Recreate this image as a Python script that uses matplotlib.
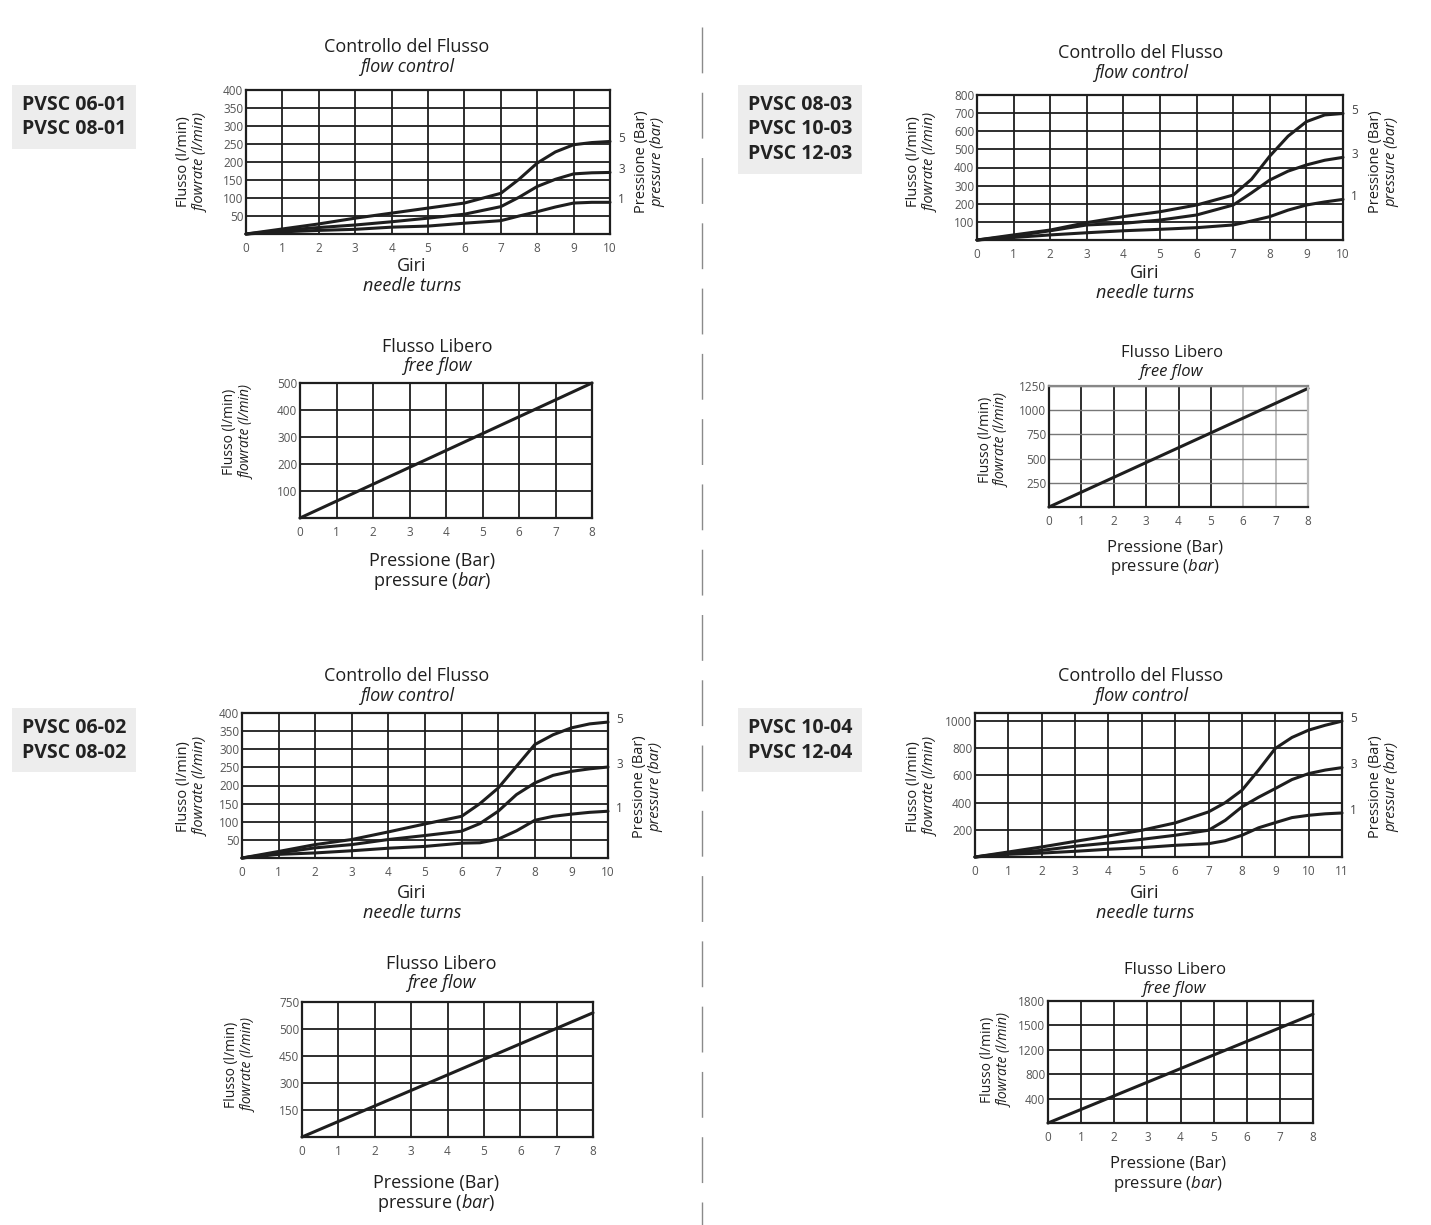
import matplotlib.pyplot as plt
from matplotlib.lines import Line2D

plt.rcParams['font.family'] = ['Open Sans', 'DejaVu Sans']
plt.rcParams['mathtext.fontset'] = 'custom'
plt.rcParams['mathtext.rm'] = 'Open Sans'
plt.rcParams['mathtext.it'] = 'Open Sans:italic'

W, H = 1431, 1225

# --- flow control, PVSC 06-01 / 08-01 ---
turns1 = [0, 1, 2, 3, 4, 5, 6, 7, 7.5, 8, 8.5, 9, 9.5, 10]
flow1_5 = [0, 14, 28, 44, 58, 72, 86, 113, 152, 197, 228, 248, 254, 257]
flow1_3 = [0, 10, 18, 25, 34, 44, 55, 76, 102, 132, 152, 167, 170, 171]
flow1_1 = [0, 6, 10, 13, 19, 22, 30, 37, 50, 62, 75, 86, 88, 88]
yt1 = [50, 100, 150, 200, 250, 300, 350, 400]

# --- flow control, PVSC 08-03 / 10-03 / 12-03 ---
turns2 = [0, 1, 2, 3, 4, 5, 6, 7, 7.5, 8, 8.5, 9, 9.5, 10]
flow2_5 = [0, 28, 55, 96, 129, 156, 193, 248, 335, 463, 573, 653, 690, 698]
flow2_3 = [0, 22, 51, 83, 92, 110, 138, 193, 260, 331, 380, 414, 440, 456]
flow2_1 = [0, 14, 28, 40, 51, 59, 68, 83, 105, 129, 165, 193, 210, 224]
yt2 = [100, 200, 300, 400, 500, 600, 700, 800]

# --- flow control, PVSC 06-02 / 08-02 ---
turns5 = [0, 1, 2, 3, 4, 5, 6, 6.5, 7, 7.5, 8, 8.5, 9, 9.5, 10]
flow5_5 = [0, 18, 37, 51, 72, 94, 115, 150, 193, 253, 313, 340, 359, 370, 375]
flow5_3 = [0, 14, 28, 37, 51, 62, 74, 95, 129, 175, 207, 228, 239, 246, 251]
flow5_1 = [0, 10, 14, 20, 27, 32, 41, 42, 52, 75, 104, 115, 121, 126, 129]
yt5 = [50, 100, 150, 200, 250, 300, 350, 400]

# --- flow control, PVSC 10-04 / 12-04 ---
turns6 = [0, 1, 2, 3, 4, 5, 6, 7, 7.5, 8, 8.5, 9, 9.5, 10, 10.5, 11]
flow6_5 = [0, 37, 74, 115, 155, 197, 251, 332, 400, 491, 640, 799, 880, 934, 970, 1000]
flow6_3 = [0, 30, 49, 79, 103, 130, 160, 197, 270, 369, 440, 504, 570, 614, 640, 658]
flow6_1 = [0, 20, 29, 42, 57, 69, 86, 98, 120, 160, 215, 253, 290, 307, 318, 324]
yt6 = [200, 400, 600, 800, 1000]

curve_labels = ['5', '3', '1']

# --- free flow ---
press = [0, 8]
free3 = [0, 500]
yt3 = [100, 200, 300, 400, 500]
free4 = [0, 1225]
yt4 = [250, 500, 750, 1000, 1250]
free7 = [0, 690]
yt7 = [150, 300, 450, 600, 750]
yl7 = ['150', '300', '450', '500', '750']
free8 = [0, 1605]
yt8 = [360, 720, 1080, 1440, 1800]
yl8 = ['400', '800', '1200', '1500', '1800']

fig = plt.figure(figsize=(W / 100, H / 100), dpi=100)
ink = '#1e1e1e'


def fx(x):
    return x / W


def fy(y):
    return 1 - y / H


def px_axes(x0, x1, ytop, ybot):
    return fig.add_axes([fx(x0), fy(ybot), (x1 - x0) / W, (ybot - ytop) / H])


def setup(ax, xmax, ymax, yticks, ylabels):
    ax.set_xlim(0, xmax)
    ax.set_ylim(0, ymax)
    ax.set_xticks(range(0, xmax + 1))
    ax.set_yticks(yticks)
    ax.set_yticklabels(ylabels)
    ax.grid(True, color=ink, lw=1.3)
    ax.set_axisbelow(True)
    ax.tick_params(length=0, labelsize=8.5, labelcolor='#555555', pad=2)
    ax.tick_params(axis='x', pad=6)
    for s in ax.spines.values():
        s.set_linewidth(1.6)
        s.set_color(ink)


def two_lines(x, y, top, bottom, size, gap=20, rot=0, bottom_style='italic'):
    if rot == 0:
        fig.text(fx(x), fy(y), top, ha='center', va='center', fontsize=size, color=ink)
        fig.text(fx(x), fy(y + gap), bottom, ha='center', va='center', fontsize=size,
                 color=ink, style=bottom_style)
    else:
        fig.text(fx(x), fy(y), top, ha='center', va='center', fontsize=size, color=ink,
                 rotation=90)
        fig.text(fx(x + gap), fy(y), bottom, ha='center', va='center', fontsize=size,
                 color=ink, rotation=90, style=bottom_style)


def flow_chart(rect, turns, curves, xmax, ymax, yticks, title_xy, xlabel_xy, ylab_x, rlab_x, ymid):
    ax = px_axes(*rect)
    setup(ax, xmax, ymax, yticks, [str(v) for v in yticks])
    for f, lab in zip(curves, curve_labels):
        ax.plot(turns, f, color=ink, lw=2.2, solid_capstyle='round', clip_on=False)
        ax.annotate(lab, (turns[-1], f[-1]), xytext=(6, 2), textcoords='offset points',
                    fontsize=8.5, color='#444444', va='center')
    two_lines(title_xy[0], title_xy[1], 'Controllo del Flusso', 'flow control', 13)
    two_lines(xlabel_xy[0], xlabel_xy[1], 'Giri', 'needle turns', 13)
    two_lines(ylab_x, ymid, 'Flusso (l/min)', 'flowrate (l/min)', 10.5, gap=17, rot=90)
    two_lines(rlab_x, ymid, 'Pressione (Bar)', 'pressure (bar)', 10.5, gap=17, rot=90)
    return ax


def free_chart(rect, flow, ymax, yticks, ylabels, title_xy, xlabel_xy, ylab_x, ymid, size=13):
    ax = px_axes(*rect)
    setup(ax, 8, ymax, yticks, ylabels)
    ax.plot(press, flow, color=ink, lw=2.2, solid_capstyle='round', clip_on=False)
    two_lines(title_xy[0], title_xy[1], 'Flusso Libero', 'free flow', size, gap=19)
    fig.text(fx(xlabel_xy[0]), fy(xlabel_xy[1]), 'Pressione (Bar)', ha='center', va='center',
             fontsize=size, color=ink)
    fig.text(fx(xlabel_xy[0]), fy(xlabel_xy[1] + 20), r'pressure $\mathit{(bar)}$', ha='center',
             va='center', fontsize=size, color=ink)
    two_lines(ylab_x, ymid, 'Flusso (l/min)', 'flowrate (l/min)', 10, gap=17, rot=90)
    return ax


# top left
flow_chart((246, 610, 90, 234), turns1, [flow1_5, flow1_3, flow1_1], 10, 400, yt1,
           (407, 47), (412, 266), 184, 641, 162)
free_chart((300, 592, 383, 518), free3, 500, yt3, [str(v) for v in yt3],
           (437, 347), (432, 561), 230, 432)

# top right
flow_chart((977, 1343, 95, 240), turns2, [flow2_5, flow2_3, flow2_1], 10, 800, yt2,
           (1141, 53), (1145, 273), 914, 1375, 162)
ax4 = free_chart((1049, 1308, 386, 507), free4, 1250, yt4, [str(v) for v in yt4],
                 (1172, 353), (1165, 547), 985, 440, size=12)
for gl in ax4.get_xgridlines()[6:]:
    gl.set_color('#bbbbbb')
for gl in ax4.get_ygridlines():
    gl.set_color('#777777')
    gl.set_linewidth(1.0)
ax4.spines['right'].set_color('#bbbbbb')
ax4.spines['top'].set_color('#888888')

# bottom left
flow_chart((242, 608, 713, 858), turns5, [flow5_5, flow5_3, flow5_1], 10, 400, yt5,
           (407, 676), (412, 893), 184, 639, 787)
free_chart((302, 593, 1002, 1137), free7, 750, yt7, yl7,
           (441, 964), (436, 1183), 232, 1065)

# bottom right
flow_chart((975, 1342, 713, 857), turns6, [flow6_5, flow6_3, flow6_1], 11, 1060, yt6,
           (1141, 676), (1145, 893), 914, 1375, 787)
free_chart((1048, 1313, 1001, 1123), free8, 1800, yt8, yl8,
           (1175, 970), (1168, 1164), 988, 1060, size=12)

# model codes
codes = [(22, 95, ['PVSC 06-01', 'PVSC 08-01']),
         (748, 95, ['PVSC 08-03', 'PVSC 10-03', 'PVSC 12-03']),
         (22, 718, ['PVSC 06-02', 'PVSC 08-02']),
         (748, 718, ['PVSC 10-04', 'PVSC 12-04'])]
for x, y, names in codes:
    fig.text(fx(x), fy(y), '\n'.join(names), ha='left', va='top', fontsize=14,
             fontweight='bold', color='#222222', linespacing=1.3,
             bbox=dict(facecolor='#ededed', edgecolor='none', pad=7))

# dashed divider
fig.add_artist(Line2D([fx(702), fx(702)], [fy(27), fy(1225)], color='#8a8a8a', lw=1.0,
                      dashes=(33, 14), transform=fig.transFigure))

fig.savefig('out.png', dpi=100, facecolor='white')
